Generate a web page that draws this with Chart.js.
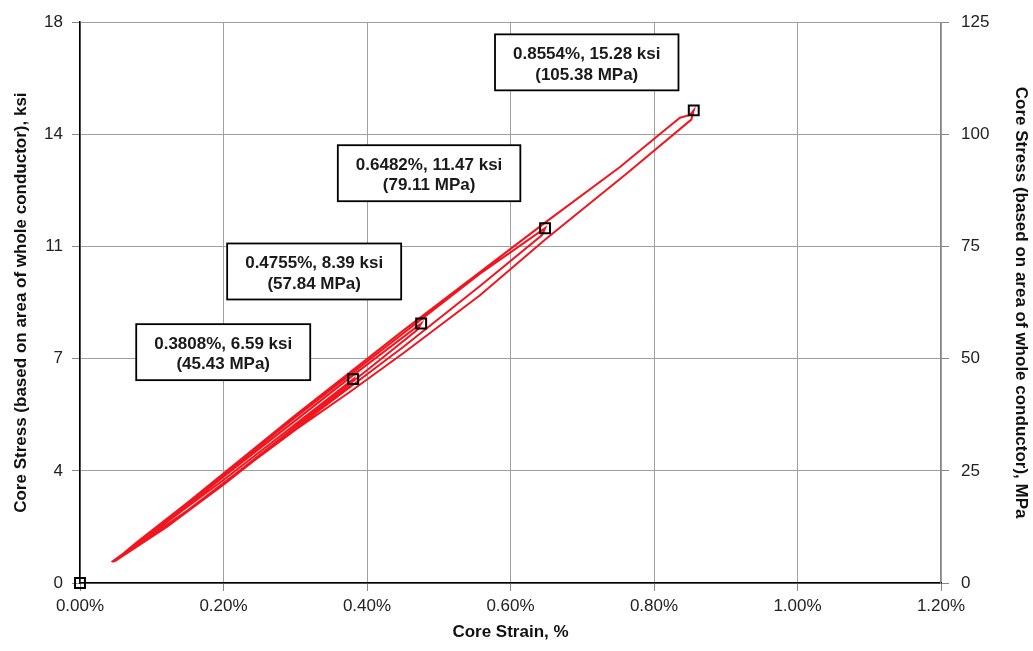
<!DOCTYPE html>
<html>
<head>
<meta charset="utf-8">
<title>Core stress vs core strain</title>
<script src="https://cdn.jsdelivr.net/npm/chart.js@4.4.0/dist/chart.umd.min.js"></script>
<style>
    html, body { margin: 0; padding: 0; background: #fff; }
    #wrap { width: 1033px; height: 651px; }
</style>
</head>
<body>
<div id="wrap"><canvas id="stressChart" width="1033" height="651"></canvas></div>
<script>
// Test record: core strain (%) and core stress (ksi), four load/unload cycles
const testStrain = [
    0.044, 0.08, 0.12, 0.20, 0.30, 0.3808,
    0.377, 0.30, 0.20, 0.12, 0.048,
    0.08, 0.15, 0.30, 0.3808, 0.4755,
    0.471, 0.40, 0.30, 0.20, 0.12, 0.046,
    0.08, 0.15, 0.30, 0.4755, 0.5575, 0.6482,
    0.644, 0.5575, 0.45, 0.30, 0.15, 0.046,
    0.08, 0.15, 0.30, 0.45, 0.5575, 0.6482, 0.7526, 0.81, 0.8362, 0.8502, 0.8554,
    0.852, 0.762, 0.648, 0.5575, 0.45, 0.375, 0.30, 0.15, 0.05
];
const testStress = [
    0.68, 1.28, 1.95, 3.33, 5.13, 6.59,
    6.42, 5.00, 3.18, 1.80, 0.70,
    1.30, 2.52, 5.25, 6.72, 8.39,
    8.20, 6.88, 5.05, 3.22, 1.82, 0.69,
    1.32, 2.56, 5.35, 8.52, 10.00, 11.47,
    11.25, 9.60, 7.62, 5.00, 2.35, 0.68,
    1.33, 2.60, 5.42, 8.15, 10.05, 11.65, 13.45, 14.55, 15.04, 15.13, 15.28,
    14.98, 13.24, 11.10, 9.30, 7.42, 6.16, 4.95, 2.35, 0.72
];

// Marked points (first one is the origin, the rest are the cycle peaks)
const markerStrain = [0, 0.3808, 0.4755, 0.6482, 0.8554];
const markerStress = [0, 6.59, 8.39, 11.47, 15.28];
const markerMPa = [0, 45.43, 57.84, 79.11, 105.38];

// Axis ticks
const strainTicks = [0, 0.2, 0.4, 0.6, 0.8, 1.0, 1.2];
const mpaTicks = [0, 25, 50, 75, 100, 125];
const ksiTickLabels = ['0', '4', '7', '11', '14', '18'];

const MPA_PER_KSI = 6.894757;

// Label box placement, pixels from each peak marker
const boxOffsetX = [-130, -107, -116, -107];
const boxOffsetY = [-27, -52, -55, -48];

const FONT = '"Liberation Sans", Arial, sans-serif';
const RED = '#f01620';

const testPoints = testStrain.map((s, i) => ({ x: s, y: testStress[i] }));
const markerPoints = markerStrain.map((s, i) => ({ x: s, y: markerStress[i] }));

// Draw the white label boxes next to each peak
const peakBoxes = {
    id: 'peakBoxes',
    afterDatasetsDraw(chart) {
        const ctx = chart.ctx;
        const xScale = chart.scales.x;
        const yScale = chart.scales.y;
        ctx.save();
        ctx.font = 'bold 17px ' + FONT;
        ctx.textAlign = 'center';
        ctx.textBaseline = 'middle';
        for (let i = 1; i < markerStrain.length; i++) {
            const px = xScale.getPixelForValue(markerStrain[i]);
            const py = yScale.getPixelForValue(markerStress[i]);
            const cx = px + boxOffsetX[i - 1];
            const cy = py + boxOffsetY[i - 1];
            const line1 = markerStrain[i].toFixed(4) + '%, ' + markerStress[i].toFixed(2) + ' ksi';
            const line2 = '(' + markerMPa[i].toFixed(2) + ' MPa)';
            const w = Math.max(ctx.measureText(line1).width, ctx.measureText(line2).width) + 36;
            const h = 56;
            ctx.fillStyle = '#fff';
            ctx.fillRect(cx - w / 2, cy - h / 2, w, h);
            ctx.strokeStyle = '#000';
            ctx.lineWidth = 1.8;
            ctx.strokeRect(cx - w / 2, cy - h / 2, w, h);
            ctx.fillStyle = '#1a1a1a';
            ctx.fillText(line1, cx, cy - 8);
            ctx.fillText(line2, cx, cy + 12.5);
        }
        ctx.restore();
    }
};

new Chart(document.getElementById('stressChart').getContext('2d'), {
    type: 'scatter',
    data: {
        datasets: [{
            label: 'Markers',
            data: markerPoints,
            showLine: false,
            pointStyle: 'rect',
            pointRadius: 7,
            pointBorderWidth: 2,
            pointBorderColor: '#000',
            pointBackgroundColor: 'rgba(255,255,255,0)',
            clip: false,
            order: 0
        }, {
            label: 'Core stress',
            data: testPoints,
            showLine: true,
            borderColor: RED,
            borderWidth: 2,
            pointRadius: 0,
            tension: 0,
            order: 1
        }]
    },
    options: {
        responsive: false,
        animation: false,
        layout: { padding: { top: 13, left: 0, right: 0, bottom: 0 } },
        plugins: {
            legend: { display: false },
            tooltip: { enabled: false }
        },
        scales: {
            x: {
                type: 'linear',
                min: 0,
                max: 1.2,
                afterBuildTicks: function (scale) {
                    scale.ticks = strainTicks.map(v => ({ value: v }));
                },
                afterFit: function (scale) { scale.height = 68; },
                ticks: {
                    callback: v => v.toFixed(2) + '%',
                    color: '#222',
                    font: { family: FONT, size: 17 },
                    padding: 5,
                    maxRotation: 0
                },
                grid: {
                    color: '#a0a0a0',
                    lineWidth: 1,
                    borderDash: [5, 3],
                    tickColor: '#888',
                    tickLength: 8
                },
                border: { color: '#000', width: 1.5 },
                title: {
                    display: true,
                    text: 'Core Strain, %',
                    color: '#111',
                    font: { family: FONT, size: 17, weight: 'bold' },
                    padding: { top: 0, bottom: 8 }
                }
            },
            y: {
                type: 'linear',
                position: 'left',
                min: 0,
                max: 125 / MPA_PER_KSI,
                afterBuildTicks: function (scale) {
                    scale.ticks = mpaTicks.map(v => ({ value: v / MPA_PER_KSI }));
                },
                afterFit: function (scale) { scale.width = 80; },
                ticks: {
                    callback: (v, i) => ksiTickLabels[i],
                    color: '#222',
                    font: { family: FONT, size: 17 },
                    padding: 9
                },
                grid: {
                    color: '#a0a0a0',
                    lineWidth: 1,
                    tickColor: '#888',
                    tickLength: 8
                },
                border: { color: '#000', width: 1.5 },
                title: {
                    display: true,
                    text: 'Core Stress (based on area of whole conductor), ksi',
                    color: '#111',
                    font: { family: FONT, size: 17, weight: 'bold' },
                    padding: { top: 11, bottom: 0 }
                }
            },
            y2: {
                type: 'linear',
                position: 'right',
                min: 0,
                max: 125,
                afterBuildTicks: function (scale) {
                    scale.ticks = mpaTicks.map(v => ({ value: v }));
                },
                afterFit: function (scale) { scale.width = 92; },
                ticks: {
                    color: '#222',
                    font: { family: FONT, size: 17 },
                    padding: 12
                },
                grid: {
                    drawOnChartArea: false,
                    tickColor: '#888',
                    tickLength: 8
                },
                border: { color: '#888', width: 1.2 },
                title: {
                    display: true,
                    text: 'Core Stress (based on area of whole conductor), MPa',
                    color: '#111',
                    font: { family: FONT, size: 17, weight: 'bold' },
                    padding: { top: 2, bottom: 0 }
                }
            }
        }
    },
    plugins: [peakBoxes]
});
</script>
</body>
</html>
